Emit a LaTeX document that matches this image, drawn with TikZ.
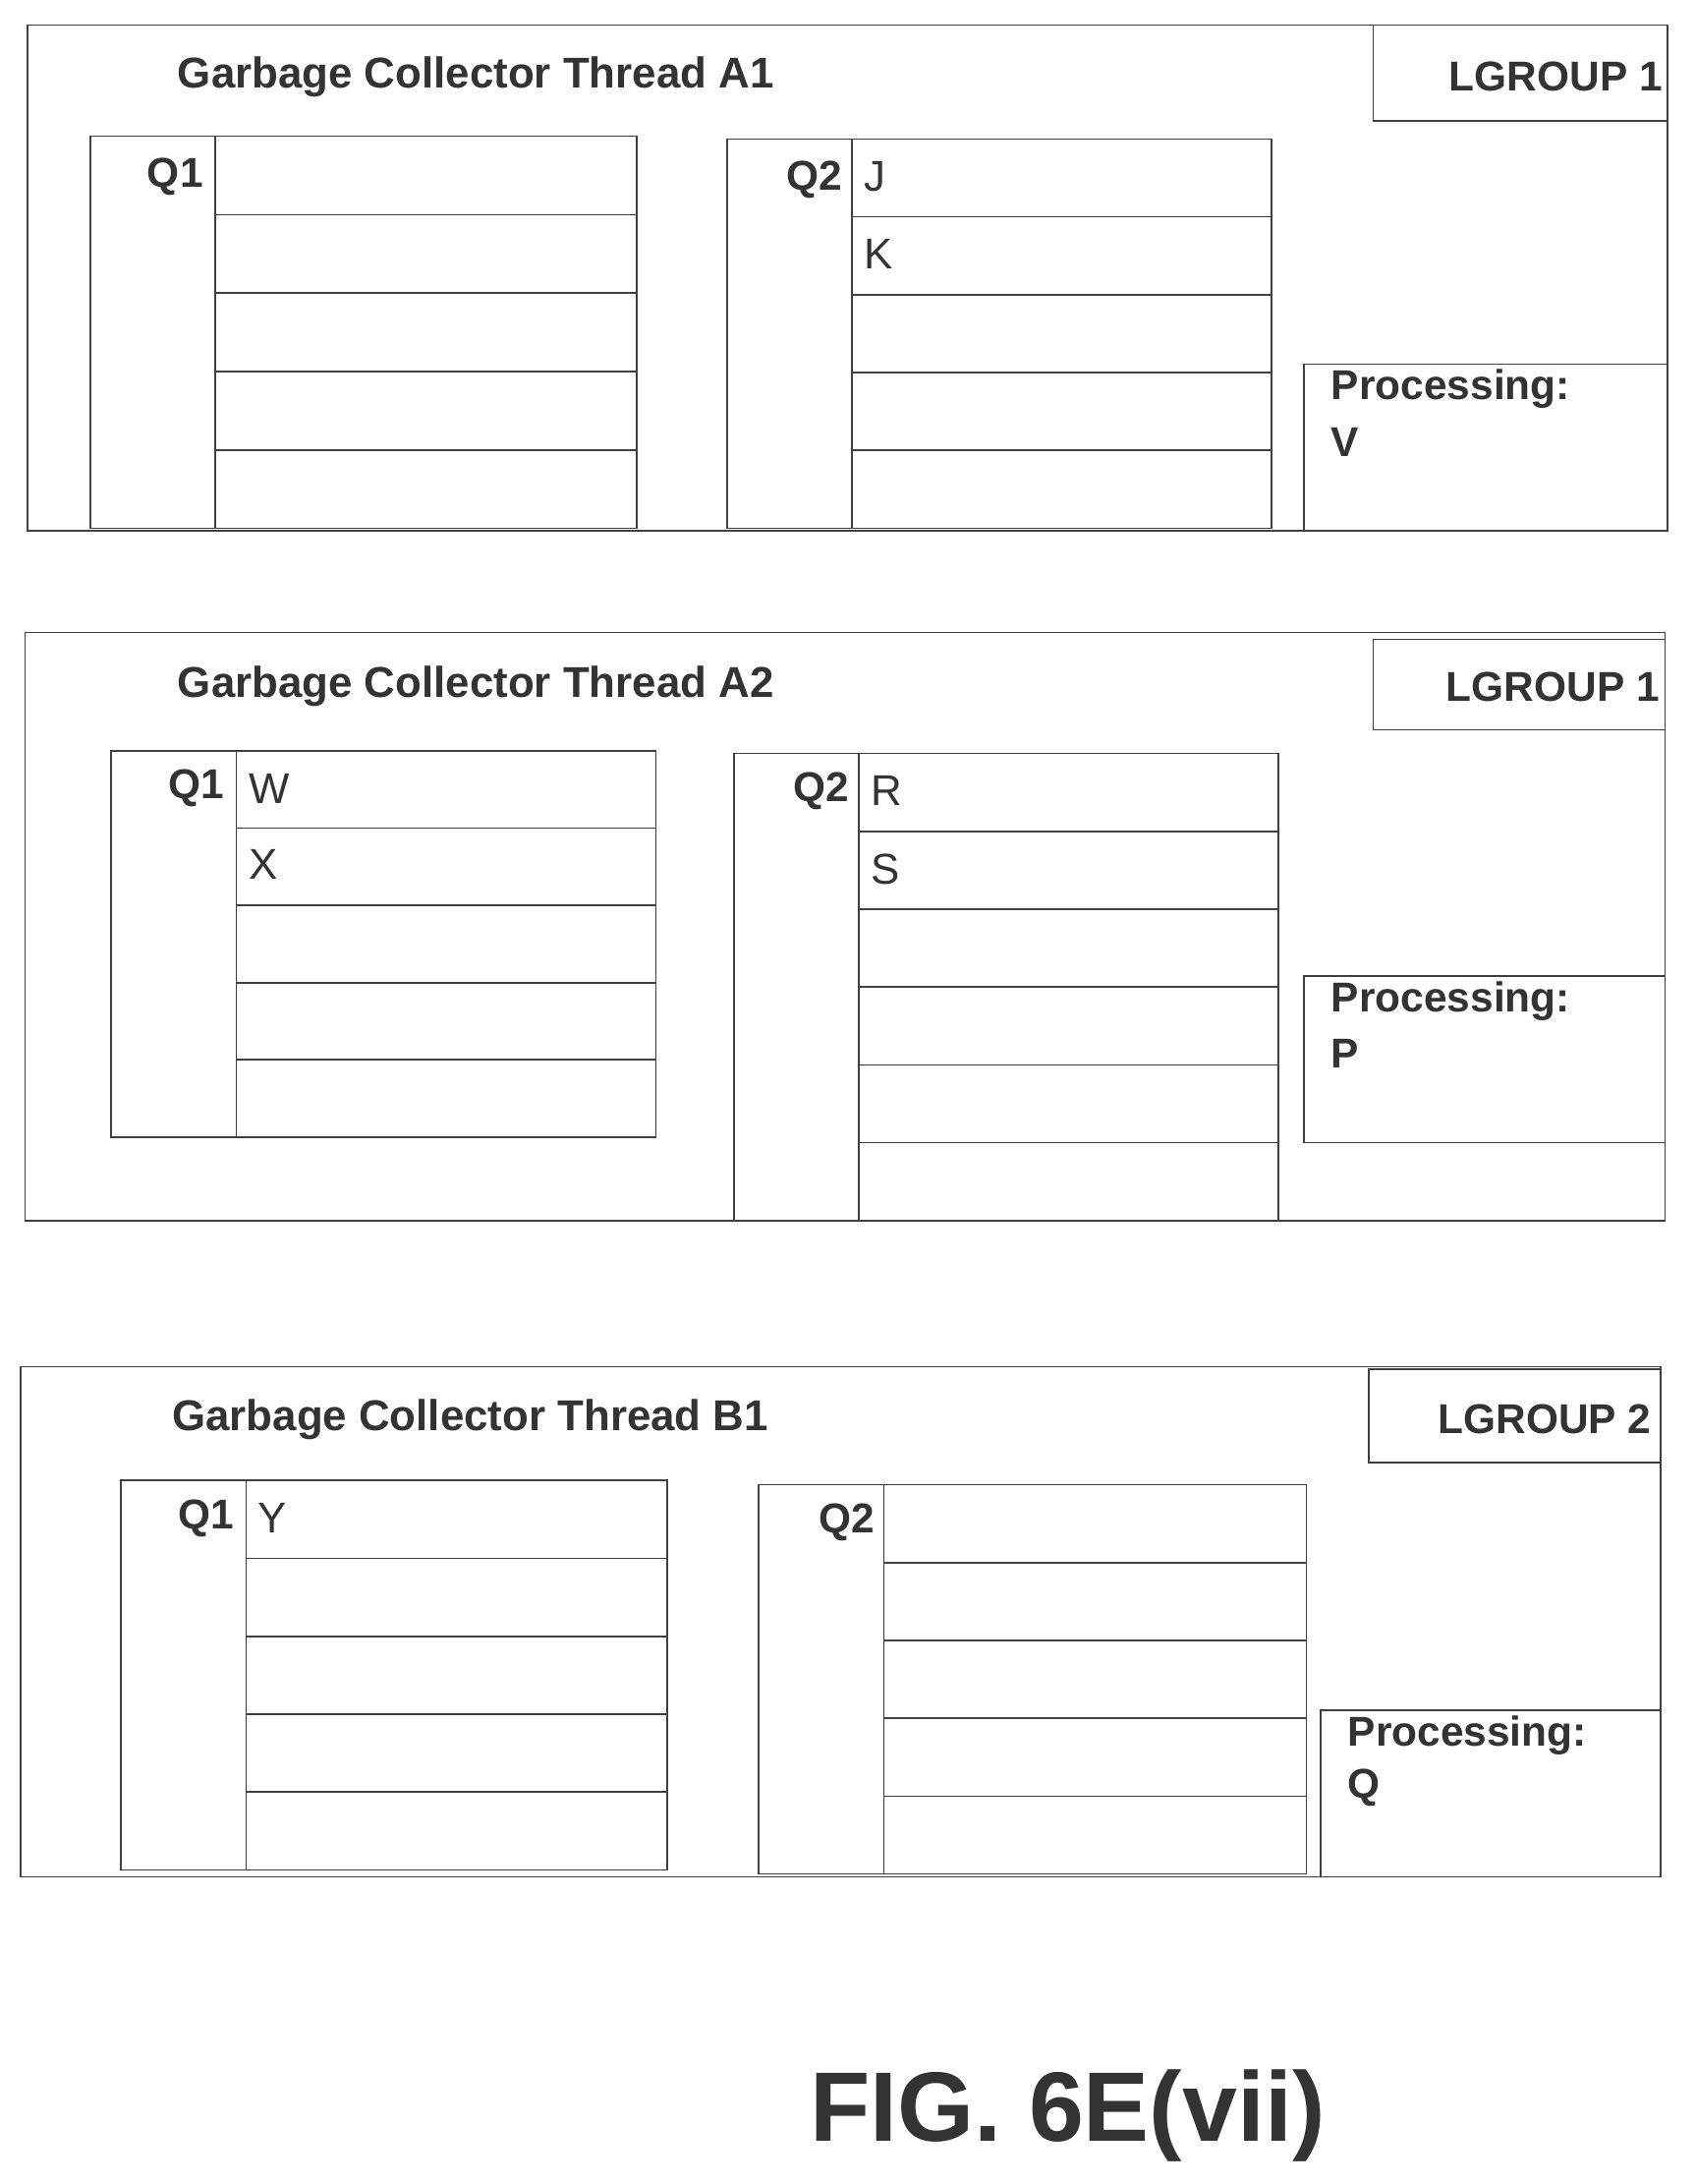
\documentclass[tikz,border=0pt]{standalone}
\usepackage{fontspec}
\setmainfont{Liberation Sans}
\begin{document}
\begin{tikzpicture}[x=1pt,y=-1pt,line width=1.2pt,draw=black!75,
  title/.style={anchor=west,font=\fontsize{31}{34}\selectfont\bfseries,text=black!80},
  lbl/.style={anchor=west,font=\fontsize{30}{34}\selectfont\bfseries,text=black!80},
  entry/.style={anchor=west,font=\fontsize{31}{34}\selectfont,text=black!80},
  fig/.style={font=\fontsize{71}{76}\selectfont\bfseries,text=black!80}]
  \useasboundingbox (0,0) rectangle (1220,1571);

  % queue: x0, xs, x1, top, row height, rows
  \newcommand{\gcqueue}[6]{%
    \draw (#1,#4) rectangle (#2,#4+#5*#6);
    \draw (#2,#4) rectangle (#3,#4+#5*#6);
    \foreach \r in {1,...,#6} \draw (#2,#4+#5*\r) -- (#3,#4+#5*\r);
  }

  % thread A1
  \draw (20,18) rectangle (1200,382);
  \draw (988,18) rectangle (1200,87);
  \node[title] (tA1) at (124,55) {Garbage Collector Thread A1};
  \node[lbl,anchor=east] (gA1) at (1200,55) {LGROUP 1};
  \gcqueue{65}{155}{458}{98}{56.4}{5}
  \node[lbl,anchor=east] (qA11) at (150,127) {Q1};
  \gcqueue{523}{613}{915}{100}{56}{5}
  \node[lbl,anchor=east] (qA12) at (610,129) {Q2};
  \node[entry] (eJ) at (618,127) {J};
  \node[entry] (eK) at (618,183) {K};
  \draw (938,262) rectangle (1200,382);
  \node[lbl] (pA1) at (954,280) {Processing:};
  \node[lbl] (vA1) at (954,318) {V};

  % thread A2
  \draw (18,455) rectangle (1198,878);
  \draw (988,460) rectangle (1198,525);
  \node[title] (tA2) at (124,494) {Garbage Collector Thread A2};
  \node[lbl,anchor=east] (gA2) at (1198,494) {LGROUP 1};
  \gcqueue{80}{170}{472}{540}{55.6}{5}
  \node[lbl,anchor=east] (qA21) at (165,567) {Q1};
  \node[entry] (eW) at (175,567) {W};
  \node[entry] (eX) at (175,622) {X};
  \gcqueue{528}{618}{920}{542}{56}{6}
  \node[lbl,anchor=east] (qA22) at (615,569) {Q2};
  \node[entry] (eR) at (623,569) {R};
  \node[entry] (eS) at (623,625) {S};
  \draw (938,702) rectangle (1198,822);
  \node[lbl] (pA2) at (954,720) {Processing:};
  \node[lbl] (vA2) at (954,758) {P};

  % thread B1
  \draw (15,983) rectangle (1195,1350);
  \draw (985,985) rectangle (1195,1052);
  \node[title] (tB1) at (120,1021) {Garbage Collector Thread B1};
  \node[lbl,anchor=east] (gB1) at (1192,1021) {LGROUP 2};
  \gcqueue{87}{177}{480}{1065}{56}{5}
  \node[lbl,anchor=east] (qB11) at (172,1092) {Q1};
  \node[entry] (eY) at (182,1092) {Y};
  \gcqueue{546}{636}{940}{1068}{56}{5}
  \node[lbl,anchor=east] (qB12) at (633,1095) {Q2};
  \draw (950,1230) rectangle (1195,1350);
  \node[lbl] (pB1) at (966,1248) {Processing:};
  \node[lbl] (vB1) at (966,1286) {Q};

  \node[fig] (figlbl) at (768,1522) {FIG. 6E(vii)};
\end{tikzpicture}
\end{document}
